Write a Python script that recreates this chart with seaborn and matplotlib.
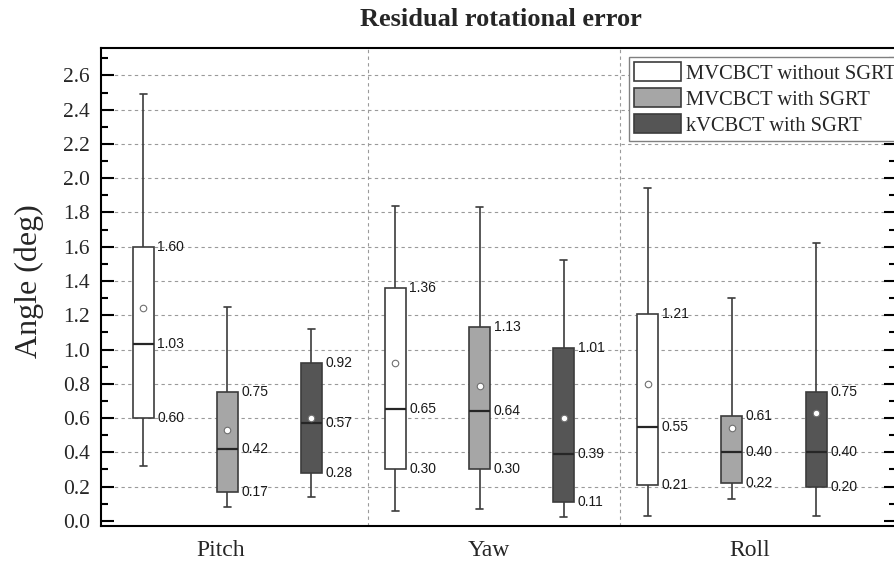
import numpy as np
import pandas as pd
import matplotlib
matplotlib.use("Agg")
import matplotlib.pyplot as plt
from matplotlib.patches import Patch
from matplotlib.ticker import MultipleLocator
import seaborn as sns

# ---- data -----------------------------------------------------------------
axis_names = ["Pitch", "Yaw", "Roll"]
methods = ["MVCBCT without SGRT", "MVCBCT with SGRT", "kVCBCT with SGRT"]

# rows: Pitch, Yaw, Roll ; columns: methods (same order as above)
whisker_low = [[0.32, 0.08, 0.14],
               [0.06, 0.07, 0.02],
               [0.03, 0.13, 0.03]]
q1 = [[0.60, 0.17, 0.28],
      [0.30, 0.30, 0.11],
      [0.21, 0.22, 0.20]]
median = [[1.03, 0.42, 0.57],
          [0.65, 0.64, 0.39],
          [0.55, 0.40, 0.40]]
q3 = [[1.60, 0.75, 0.92],
      [1.36, 1.13, 1.01],
      [1.21, 0.61, 0.75]]
whisker_high = [[2.49, 1.25, 1.12],
                [1.84, 1.83, 1.52],
                [1.94, 1.30, 1.62]]
means = [[1.24, 0.53, 0.60],
         [0.92, 0.79, 0.60],
         [0.80, 0.54, 0.63]]

y_ticks = [0.0, 0.2, 0.4, 0.6, 0.8, 1.0, 1.2, 1.4, 1.6, 1.8, 2.0, 2.2, 2.4, 2.6]

# ---- style ----------------------------------------------------------------
sns.set_style("ticks")
plt.rcParams["font.family"] = ["Liberation Serif", "DejaVu Serif"]

colors = ["#ffffff", "#a6a6a6", "#555555"]
edge = "#3c3c3c"
grid_kw = dict(color="#9a9a9a", linewidth=0.8, linestyle=(0, (3, 3)), zorder=0)

# Each box summary is expanded to its five characteristic values, so the
# quartiles computed by seaborn equal the stated ones and whiskers (0-100 %)
# reach the stated extremes.
records = []
for i, ax_name in enumerate(axis_names):
    for j, m in enumerate(methods):
        for v in (whisker_low[i][j], q1[i][j], median[i][j], q3[i][j], whisker_high[i][j]):
            records.append({"axis": ax_name, "method": m, "angle": v})
df = pd.DataFrame(records)

W, H = 895, 564
fig = plt.figure(figsize=(W / 100, H / 100), dpi=100)
ax = fig.add_axes([101 / W, 1 - 526 / H, (896 - 101) / W, (526 - 48) / H])

GROUP_WIDTH = 1.0
GAP = 0.75
sns.boxplot(
    data=df, x="axis", y="angle", hue="method",
    order=axis_names, hue_order=methods, palette=colors,
    width=GROUP_WIDTH, gap=GAP, whis=(0, 100), saturation=1,
    linecolor=edge, linewidth=1.2, showfliers=False, legend=False,
    medianprops={"color": "#262626", "linewidth": 1.6},
    capwidths=0.028,
    ax=ax, zorder=2,
)

# positions of the individual boxes inside each group
n = len(methods)
step = GROUP_WIDTH / n
half_box = step * (1 - GAP) / 2
for i in range(len(axis_names)):
    for j in range(n):
        pos = i + (j - (n - 1) / 2) * step
        ax.scatter(pos, means[i][j], s=22, facecolor="white",
                   edgecolor="#707070", linewidth=0.8, zorder=5)
        for v in (q3[i][j], median[i][j], q1[i][j]):
            ax.annotate(f"{v:.2f}", xy=(pos + half_box, v), xytext=(2.5, 0),
                        textcoords="offset points", ha="left", va="center",
                        fontsize=10, family=["Liberation Sans", "DejaVu Sans"],
                        color="#1a1a1a", zorder=6)

# horizontal dashed grid (not at zero) and group separators
for v in y_ticks[1:]:
    ax.axhline(v, **grid_kw)
for x in (0.556, 1.556):
    ax.axvline(x, **grid_kw)

ax.set_xlim(-0.5, 2.65)
ax.set_ylim(-0.03, 2.76)
ax.set_yticks(y_ticks)
ax.set_yticklabels([f"{v:.1f}" for v in y_ticks])
ax.yaxis.set_minor_locator(MultipleLocator(0.1))
ax.set_xticks([-0.024, 1.036, 2.071])
ax.set_xticklabels(axis_names)
ax.tick_params(axis="y", which="both", direction="in", left=True, right=True,
               width=1.5, labelsize=15.5, pad=8, color="black")
ax.tick_params(axis="y", which="major", length=9)
ax.tick_params(axis="y", which="minor", length=5)
ax.tick_params(axis="x", which="both", length=0, labelsize=17, pad=10)
ax.set_xlabel("")
ax.set_ylabel("")
for s in ax.spines.values():
    s.set_visible(True)
    s.set_linewidth(1.5)
    s.set_color("black")

fig.text(29 / W, 1 - 281 / H, "Angle (deg)", rotation=90, ha="center",
         va="center", fontsize=23)
fig.text(501 / W, 1 - 20 / H, "Residual rotational error", ha="center",
         va="center", fontsize=19, fontweight="bold")

handles = [Patch(facecolor=c, edgecolor=edge, linewidth=1.2) for c in colors]
leg = ax.legend(handles, methods, loc="upper left",
                bbox_to_anchor=(629 / W, 1 - 57 / H), bbox_transform=fig.transFigure,
                fontsize=14.8, frameon=True, fancybox=False, borderaxespad=0,
                borderpad=0.25, handlelength=2.27, handleheight=1.05,
                handletextpad=0.25, labelspacing=0.22)
leg.get_frame().set_edgecolor("#808080")
leg.get_frame().set_linewidth(1.0)
leg.get_frame().set_alpha(1)

fig.savefig("out.png", dpi=100)
